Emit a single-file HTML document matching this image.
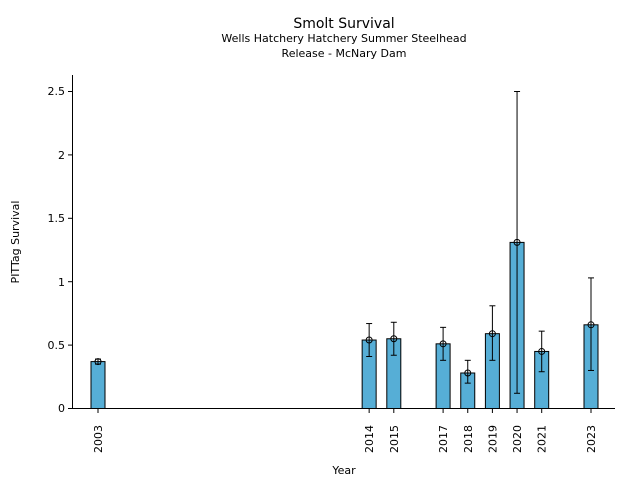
<!DOCTYPE html>
<html><head><style>body{margin:0;background:#fff}svg{display:block}text{font-family:"DejaVu Sans","Liberation Sans",sans-serif;fill:#000}</style></head>
<body>
<svg width="640" height="480" viewBox="0 0 640 480" xmlns="http://www.w3.org/2000/svg">
<text x="344" y="28" font-size="14" text-anchor="middle">Smolt Survival</text>
<text x="344" y="42" font-size="11" text-anchor="middle">Wells Hatchery Hatchery Summer Steelhead</text>
<text x="344" y="57" font-size="11" text-anchor="middle">Release - McNary Dam</text>
<g stroke="#000" stroke-width="1" fill="none">
<line x1="72.5" y1="75" x2="72.5" y2="408.5"/>
<line x1="72" y1="408.5" x2="615" y2="408.5"/>
</g>
<g font-size="11" text-anchor="end">
<g stroke="#000"><line x1="68" x2="72" y1="408.5" y2="408.5"/><line x1="68" x2="72" y1="345.1" y2="345.1"/><line x1="68" x2="72" y1="281.7" y2="281.7"/><line x1="68" x2="72" y1="218.3" y2="218.3"/><line x1="68" x2="72" y1="154.9" y2="154.9"/><line x1="68" x2="72" y1="91.5" y2="91.5"/></g>
<text x="65" y="412">0</text><text x="65" y="349">0.5</text><text x="65" y="286">1</text><text x="65" y="222">1.5</text><text x="65" y="159">2</text><text x="65" y="95">2.5</text>
</g>
<text transform="translate(19,242) rotate(-90)" font-size="11" text-anchor="middle">PITTag Survival</text>
<text x="344" y="474" font-size="11" text-anchor="middle">Year</text>
<g id="bars" fill="#56aed6" stroke="#000" stroke-width="1"></g>
<g id="err" stroke="#000" stroke-width="1" fill="none"></g>
<g id="xt" font-size="11"></g>
</svg>
<script>
var d=[[2003,.37,.35,.39],[2014,.54,.41,.67],[2015,.55,.42,.68],[2017,.51,.38,.64],[2018,.28,.20,.38],[2019,.59,.38,.81],[2020,1.31,.12,2.50],[2021,.45,.29,.61],[2023,.66,.30,1.03]];
function X(y){return 98+(y-2003)*24.65}function Y(v){return 408.5-126.8*v}
var b="",e="",t="";
d.forEach(function(r){var x=X(r[0]);
b+='<rect x="'+(x-7)+'" y="'+Y(r[1])+'" width="14" height="'+(408.5-Y(r[1]))+'"/>';
e+='<line x1="'+x+'" x2="'+x+'" y1="'+Y(r[2])+'" y2="'+Y(r[3])+'"/><line x1="'+(x-3)+'" x2="'+(x+3)+'" y1="'+Y(r[2])+'" y2="'+Y(r[2])+'"/><line x1="'+(x-3)+'" x2="'+(x+3)+'" y1="'+Y(r[3])+'" y2="'+Y(r[3])+'"/><circle cx="'+x+'" cy="'+Y(r[1])+'" r="3"/>';
t+='<line x1="'+x+'" x2="'+x+'" y1="408.5" y2="413" stroke="#000"/><text transform="translate('+(x+4)+',453) rotate(-90)">'+r[0]+'</text>';});
document.getElementById('bars').innerHTML=b;document.getElementById('err').innerHTML=e;document.getElementById('xt').innerHTML=t;
</script>
</body></html>
